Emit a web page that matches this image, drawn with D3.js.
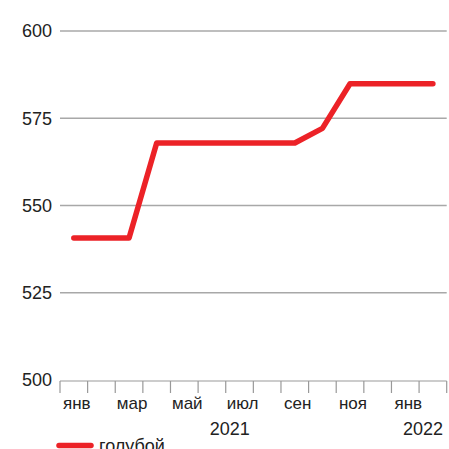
<!DOCTYPE html>
<html>
<head>
<meta charset="utf-8">
<script src="https://cdn.jsdelivr.net/npm/d3@7"></script>
<style>
html,body{margin:0;padding:0;background:#fff;}
svg{display:block;font-family:"Liberation Sans",Arial,sans-serif;}
</style>
</head>
<body>
<svg id="c" width="449" height="449"></svg>
<script>
const months = ["2021-01","2021-02","2021-03","2021-04","2021-05","2021-06","2021-07","2021-08","2021-09","2021-10","2021-11","2021-12","2022-01","2022-02"];
const monthLabels = ["янв","фев","мар","апр","май","июн","июл","авг","сен","окт","ноя","дек","янв","фев"];
const values = [540.7,540.7,540.7,567.9,567.9,567.9,567.9,567.9,567.9,572.1,584.9,584.9,584.9,584.9];
const yTicks = [500,525,550,575,600];
const years = [{label:"2021",from:"2021-01",to:"2021-12"},{label:"2022",from:"2022-01",to:"2022-02"}];
const seriesName = "голубой";

const svg = d3.select("#c");
const x = d3.scaleBand().domain(months).range([60,446.7]).padding(0);
const y = d3.scaleLinear().domain([500,600]).range([380,31]);
const red = "#ec2227";
const gray = "#a8a8a8";

// gridlines
svg.append("g").selectAll("line").data(yTicks.filter(d=>d>500)).join("line")
  .attr("x1",60).attr("x2",446.7)
  .attr("y1",d=>y(d)).attr("y2",d=>y(d))
  .attr("stroke",gray).attr("stroke-width",1.6);

// y labels
svg.append("g").selectAll("text").data(yTicks).join("text")
  .attr("x",52).attr("y",d=>y(d)).attr("dy","0.36em")
  .attr("text-anchor","end").attr("font-size",18).attr("fill","#222")
  .text(d=>d);

// x axis
const xa = svg.append("g");
xa.append("line").attr("x1",60).attr("x2",446.7).attr("y1",y(500)+1).attr("y2",y(500)+1)
  .attr("stroke","#999").attr("stroke-width",1.2);
const tickPos = months.map(m=>x(m)).concat([x(months[months.length-1])+x.bandwidth()]);
xa.selectAll("line.t").data(tickPos).join("line").attr("class","t")
  .attr("x1",d=>d).attr("x2",d=>d).attr("y1",y(500)+1).attr("y2",y(500)+13)
  .attr("stroke","#999").attr("stroke-width",1.2);
xa.selectAll("text.m").data(months.map((m,i)=>({m,i})).filter(d=>d.i%2===0)).join("text").attr("class","m")
  .attr("x",d=>x(d.m)+x.bandwidth()/2+3).attr("y",409)
  .attr("text-anchor","middle").attr("font-size",17).attr("fill","#222")
  .text(d=>monthLabels[d.i]);
xa.selectAll("text.yr").data(years).join("text").attr("class","yr")
  .attr("x",d=>(x(d.from)+x(d.to)+x.bandwidth())/2+4).attr("y",435)
  .attr("text-anchor","middle").attr("font-size",18).attr("fill","#222")
  .text(d=>d.label);

// line
const line = d3.line().x((d,i)=>x(months[i])+x.bandwidth()/2).y(d=>y(d));
svg.append("path").datum(values).attr("d",line)
  .attr("fill","none").attr("stroke",red).attr("stroke-width",5.5)
  .attr("stroke-linejoin","round").attr("stroke-linecap","round");

// legend
svg.append("line").attr("x1",59).attr("x2",91).attr("y1",445.5).attr("y2",445.5)
  .attr("stroke",red).attr("stroke-width",5.5).attr("stroke-linecap","round");
svg.append("text").attr("x",99).attr("y",452).attr("font-size",18).attr("fill","#222").text(seriesName);
</script>
</body>
</html>
